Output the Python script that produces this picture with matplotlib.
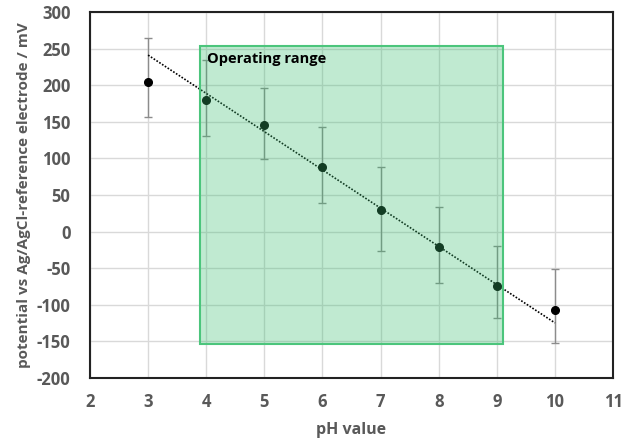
import numpy as np
import matplotlib
matplotlib.use('Agg')
import matplotlib.pyplot as plt
from matplotlib.patches import Rectangle

plt.rcParams['font.family'] = ['Open Sans', 'DejaVu Sans']
plt.rcParams['axes.unicode_minus'] = False

# data
ph = [3, 4, 5, 6, 7, 8, 9, 10]
potential = [204, 180, 146, 88, 30, -21, -74, -107]
err_low = [47, 50, 47, 49, 56, 49, 44, 45]
err_high = [61, 54, 50, 55, 58, 54, 54, 56]

# operating range box (pH and mV)
range_ph = [3.9, 9.1]
range_mv = [-154, 254]

# trendline fitted on the operating range points only (pH 4-9)
fit_x = np.array(ph[1:7])
fit_y = np.array(potential[1:7])
slope, intercept = np.polyfit(fit_x, fit_y, 1)

fig = plt.figure(figsize=(6.32, 4.41), dpi=100)
ax = fig.add_axes([0.1424, 0.1429, 0.8276, 0.8299])

ax.set_xlim(2, 11)
ax.set_ylim(-200, 300)
ax.set_xticks(range(2, 12))
ax.set_yticks(range(-200, 301, 50))
ax.grid(True, color='#d9d9d9', linewidth=1.0)
ax.set_axisbelow(True)

ax.errorbar(ph, potential, yerr=[err_low, err_high], fmt='o', color='black',
            markersize=5.5, ecolor='#8c8c8c', elinewidth=1.0, capsize=3,
            capthick=1.0, zorder=3)

line_x = np.array([ph[0], ph[-1]])
ax.plot(line_x, slope * line_x + intercept, color='black', linestyle=(0, (1, 1)),
        linewidth=1.2, zorder=4)

w = range_ph[1] - range_ph[0]
h = range_mv[1] - range_mv[0]
ax.add_patch(Rectangle((range_ph[0], range_mv[0]), w, h, facecolor='#3cbf72',
                       alpha=0.32, edgecolor='none', zorder=5))
ax.add_patch(Rectangle((range_ph[0], range_mv[0]), w, h, facecolor='none',
                       edgecolor='#4cc57c', linewidth=1.5, zorder=6))
ax.text(range_ph[0] + 0.12, range_mv[1] - 8, 'Operating range', fontsize=10.5,
        fontweight='bold', ha='left', va='top', color='black', zorder=7)

for side in ['left', 'bottom', 'top', 'right']:
    ax.spines[side].set_color('#222222')
    ax.spines[side].set_linewidth(1.5)

ax.tick_params(length=0, labelsize=12, labelcolor='#595959')
ax.tick_params(axis='y', pad=14)
ax.tick_params(axis='x', pad=11)
for lbl in ax.get_xticklabels() + ax.get_yticklabels():
    lbl.set_fontweight('bold')

ax.set_xlabel('pH value', fontsize=11.5, fontweight='bold', color='#595959', labelpad=8)
ax.set_ylabel('potential vs Ag/AgCl-reference electrode / mV', fontsize=11,
              fontweight='bold', color='#595959', labelpad=4)

fig.savefig('out.png', dpi=100)
